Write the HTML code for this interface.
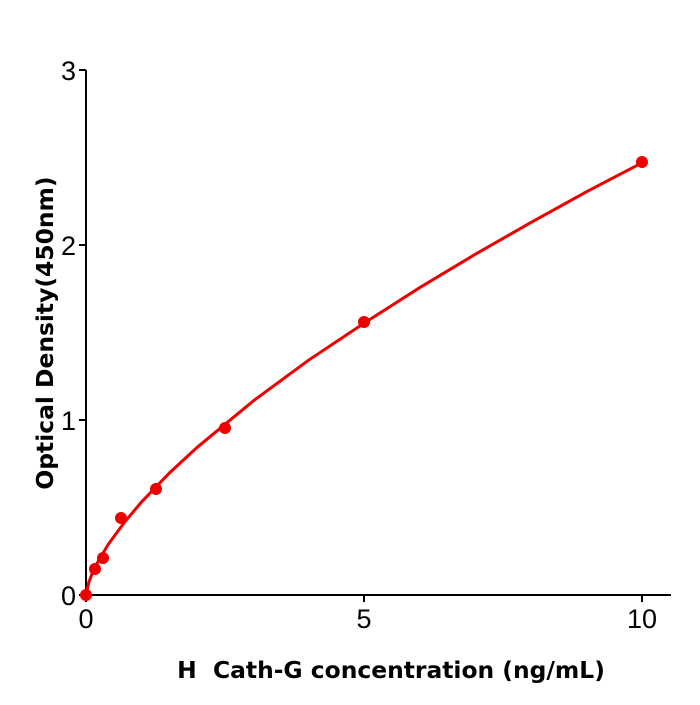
<!DOCTYPE html>
<html><head><meta charset="utf-8"><style>html,body{margin:0;padding:0;background:#fff}</style></head>
<body>
<svg width="700" height="700" xmlns="http://www.w3.org/2000/svg" font-family="'DejaVu Sans','Liberation Sans',sans-serif">
<rect width="700" height="700" fill="#fff"/>
<g stroke="#000" stroke-width="2" fill="none">
<line x1="86" y1="70" x2="86" y2="596"/>
<line x1="85" y1="595" x2="671" y2="595"/>
<line x1="79" y1="595" x2="86" y2="595"/>
<line x1="79" y1="420" x2="86" y2="420"/>
<line x1="79" y1="245" x2="86" y2="245"/>
<line x1="79" y1="70" x2="86" y2="70"/>
<line x1="86" y1="595" x2="86" y2="602"/>
<line x1="364" y1="595" x2="364" y2="602"/>
<line x1="642" y1="595" x2="642" y2="602"/>
</g>
<g font-size="27" fill="#000" font-family="'Liberation Sans Narrow','Liberation Sans',sans-serif">
<text x="76" y="605" text-anchor="end">0</text>
<text x="76" y="430" text-anchor="end">1</text>
<text x="76" y="255" text-anchor="end">2</text>
<text x="76" y="80" text-anchor="end">3</text>
<text x="86" y="628" text-anchor="middle">0</text>
<text x="364" y="628" text-anchor="middle">5</text>
<text x="642" y="628" text-anchor="middle">10</text>
</g>
<text x="391" y="678" font-size="23.4" font-weight="bold" text-anchor="middle" xml:space="preserve">H  Cath-G concentration (ng/mL)</text>
<text transform="translate(53,333) rotate(-90)" font-size="23.4" font-weight="bold" text-anchor="middle">Optical Density(450nm)</text>
<polyline fill="none" stroke="#e00" stroke-width="3" points="86,595 88.8,582.4 91.6,575 97.1,563.2 108.2,544.4 124.9,521.7 141.6,501.9 169.4,473 197.2,447.3 252.8,401.3 308.4,360.3 364,323.2 419.6,287.7 475.2,254.3 530.8,222.6 586.4,191.8 642,162.8"/>
<g fill="#e00">
<circle cx="86" cy="595" r="6"/>
<circle cx="95" cy="569" r="6"/>
<circle cx="103" cy="558" r="6"/>
<circle cx="121" cy="518" r="6"/>
<circle cx="156" cy="489" r="6"/>
<circle cx="225" cy="428" r="6"/>
<circle cx="364" cy="322" r="6"/>
<circle cx="642" cy="162" r="6"/>
</g>
</svg>
</body></html>
